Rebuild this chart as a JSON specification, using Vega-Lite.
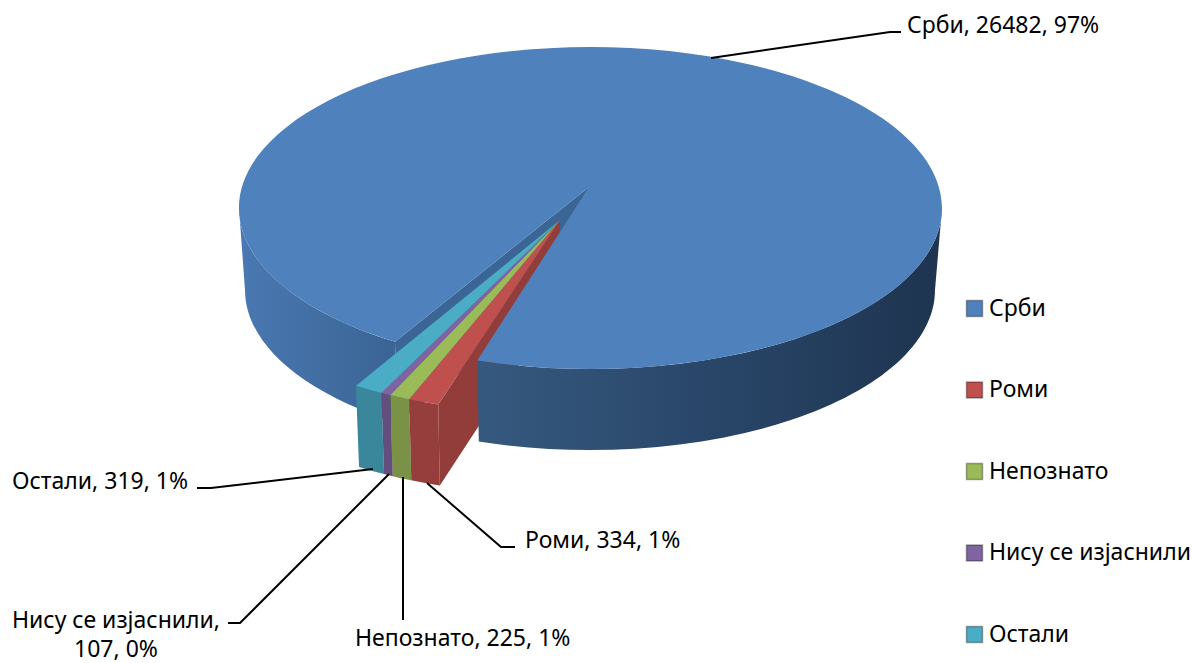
{
"$schema":"https://vega.github.io/schema/vega-lite/v6.json",
"width":1192,"height":663,"autosize":"none","padding":0,"background":"white",
"config":{"view":{"stroke":null},"text":{"font":"Noto Sans","fontSize":23,"color":"#000000"}},
"data":{"values":[
{"ord":1,"name":"Срби","value":26482,"label":"Срби, 26482, 97%"},
{"ord":2,"name":"Роми","value":334,"label":"Роми, 334, 1%"},
{"ord":3,"name":"Непознато","value":225,"label":"Непознато, 225, 1%"},
{"ord":4,"name":"Нису се изјаснили","value":107,"label":"Нису се изјаснили,\n107, 0%"},
{"ord":5,"name":"Остали","value":319,"label":"Остали, 319, 1%"}
]},
"transform":[
{"stack":"value","groupby":[],"sort":[{"field":"ord","order":"ascending"}],"offset":"normalize","as":["v0","v1"]},
{"calculate":"(213.8+(datum.v0<=0.96415?datum.v0*345/0.96414:345+(datum.v0-0.96414)*15/0.03586))*PI/180","as":"a0"},
{"calculate":"(213.8+(datum.v1<=0.96415?datum.v1*345/0.96414:345+(datum.v1-0.96414)*15/0.03586))*PI/180","as":"a1"},
{"calculate":"datum.ord>1?-39:0","as":"ox"},
{"calculate":"datum.ord>1?44:0","as":"oy"},
{"calculate":"format(590.5+351.5*sin(datum.a0)+datum.ox,'.2f')+','+format(208-161*cos(datum.a0)+datum.oy,'.2f')","as":"t0"},
{"calculate":"format(590.5+351.5*sin(datum.a1)+datum.ox,'.2f')+','+format(208-161*cos(datum.a1)+datum.oy,'.2f')","as":"t1"},
{"calculate":"format(590+345*sin(datum.a0)+datum.ox,'.2f')+','+format(290-160*cos(datum.a0)+datum.oy,'.2f')","as":"b0"},
{"calculate":"format(590+345*sin(datum.a1)+datum.ox,'.2f')+','+format(290-160*cos(datum.a1)+datum.oy,'.2f')","as":"b1"},
{"calculate":"'M'+(datum.ord>1?'560,220':'589,187')+'L'+datum.t0+'A351.5,161,0,'+(datum.a1-datum.a0>PI?1:0)+',1,'+datum.t1+'Z'","as":"topPath"},
{"calculate":"'M'+datum.t0+'A351.5,161,0,0,1,'+datum.t1+'L'+datum.b1+'A345,160,0,0,0,'+datum.b0+'Z'","as":"wallPath"},
{"calculate":"'M942,208A351.5,161,0,0,1,'+datum.t1+'L'+datum.b1+'A345,160,0,0,0,935,290Z'","as":"rightWall"},
{"calculate":"'M'+datum.t0+'A351.5,161,0,0,1,239,208L245,290A345,160,0,0,0,'+datum.b0+'Z'","as":"leftWall"},
{"calculate":"datum.ord>1?'M560,220L'+datum.t0+'L'+datum.b0+'L560,302Z':'M589,187L'+datum.t0+'L'+datum.b0+'L589,270Z'","as":"cutFace"},
{"calculate":"datum.ord==1?'M711,58L890,32L901,32':datum.ord==2?'M427,483L501,547L515,547':datum.ord==3?'M403,477L403,620':datum.ord==4?'M389,474L240,623L228,623':'M373,469L211,488L197,488'","as":"leader"}
],
"layer":[
{"transform":[{"filter":"datum.ord==1"}],"mark":{"type":"point","filled":true,"opacity":1,"size":4,"xOffset":-596,"yOffset":-331.5,"fill":"#3b6595"},"encoding":{"shape":{"field":"cutFace","type":"nominal","scale":null,"legend":null}}},
{"transform":[{"filter":"datum.ord==2"}],"mark":{"type":"point","filled":true,"opacity":1,"size":4,"xOffset":-596,"yOffset":-331.5,"fill":"#933d3b"},"encoding":{"shape":{"field":"cutFace","type":"nominal","scale":null,"legend":null}}},
{"transform":[{"filter":"datum.ord==1"}],"mark":{"type":"point","filled":true,"opacity":1,"size":4,"xOffset":-596,"yOffset":-331.5,"fill":{"gradient":"linear","x1":0,"y1":0,"x2":1,"y2":0,"stops":[{"offset":0,"color":"#4a78b2"},{"offset":1,"color":"#3a6494"}]}},"encoding":{"shape":{"field":"leftWall","type":"nominal","scale":null,"legend":null}}},
{"transform":[{"filter":"datum.ord==1"}],"mark":{"type":"point","filled":true,"opacity":1,"size":4,"xOffset":-596,"yOffset":-331.5,"fill":{"gradient":"linear","x1":0,"y1":0,"x2":1,"y2":0,"stops":[{"offset":0,"color":"#36597f"},{"offset":0.5,"color":"#294669"},{"offset":1,"color":"#1e344f"}]}},"encoding":{"shape":{"field":"rightWall","type":"nominal","scale":null,"legend":null}}},
{"transform":[{"filter":"datum.ord>1"}],"mark":{"type":"point","filled":true,"opacity":1,"size":4,"xOffset":-596,"yOffset":-331.5},"encoding":{"shape":{"field":"wallPath","type":"nominal","scale":null,"legend":null},"fill":{"field":"name","type":"nominal"}}},
{"transform":[{"filter":"datum.ord>1"}],"mark":{"type":"point","filled":true,"opacity":0.22,"size":4,"xOffset":-596,"yOffset":-331.5,"fill":"#000000"},"encoding":{"shape":{"field":"wallPath","type":"nominal","scale":null,"legend":null}}},
{"mark":{"type":"point","filled":true,"opacity":1,"size":4,"xOffset":-596,"yOffset":-331.5},"encoding":{"shape":{"field":"topPath","type":"nominal","scale":null,"legend":null},"fill":{"field":"name","type":"nominal","scale":{"domain":["Срби","Роми","Непознато","Нису се изјаснили","Остали"],"range":["#4f81bd","#c0504d","#9bbb59","#8064a2","#4bacc6"]},"legend":{"title":null,"orient":"none","legendX":963,"legendY":297,"symbolType":"square","symbolSize":256,"symbolStrokeColor":"#00000055","symbolStrokeWidth":1.5,"labelFont":"Noto Sans","labelFontSize":23,"labelColor":"#000000","labelOffset":3,"rowPadding":57.5,"labelLimit":300}}}},
{"mark":{"type":"point","filled":false,"opacity":1,"size":4,"xOffset":-596,"yOffset":-331.5,"stroke":"#000000","strokeWidth":2},"encoding":{"shape":{"field":"leader","type":"nominal","scale":null,"legend":null}}},
{"transform":[{"filter":"datum.ord==1"}],"mark":{"type":"text","align":"left","baseline":"middle","dx":311,"dy":-305.5},"encoding":{"text":{"field":"label"}}},
{"transform":[{"filter":"datum.ord==2"}],"mark":{"type":"text","align":"left","baseline":"middle","dx":-71,"dy":209.5},"encoding":{"text":{"field":"label"}}},
{"transform":[{"filter":"datum.ord==3"}],"mark":{"type":"text","align":"left","baseline":"middle","dx":-241,"dy":307.5},"encoding":{"text":{"field":"label"}}},
{"transform":[{"filter":"datum.ord==4"}],"mark":{"type":"text","align":"center","baseline":"top","lineBreak":"\n","lineHeight":29,"dx":-480,"dy":278},"encoding":{"text":{"field":"label"}}},
{"transform":[{"filter":"datum.ord==5"}],"mark":{"type":"text","align":"left","baseline":"middle","dx":-584,"dy":150.5},"encoding":{"text":{"field":"label"}}}
]
}
